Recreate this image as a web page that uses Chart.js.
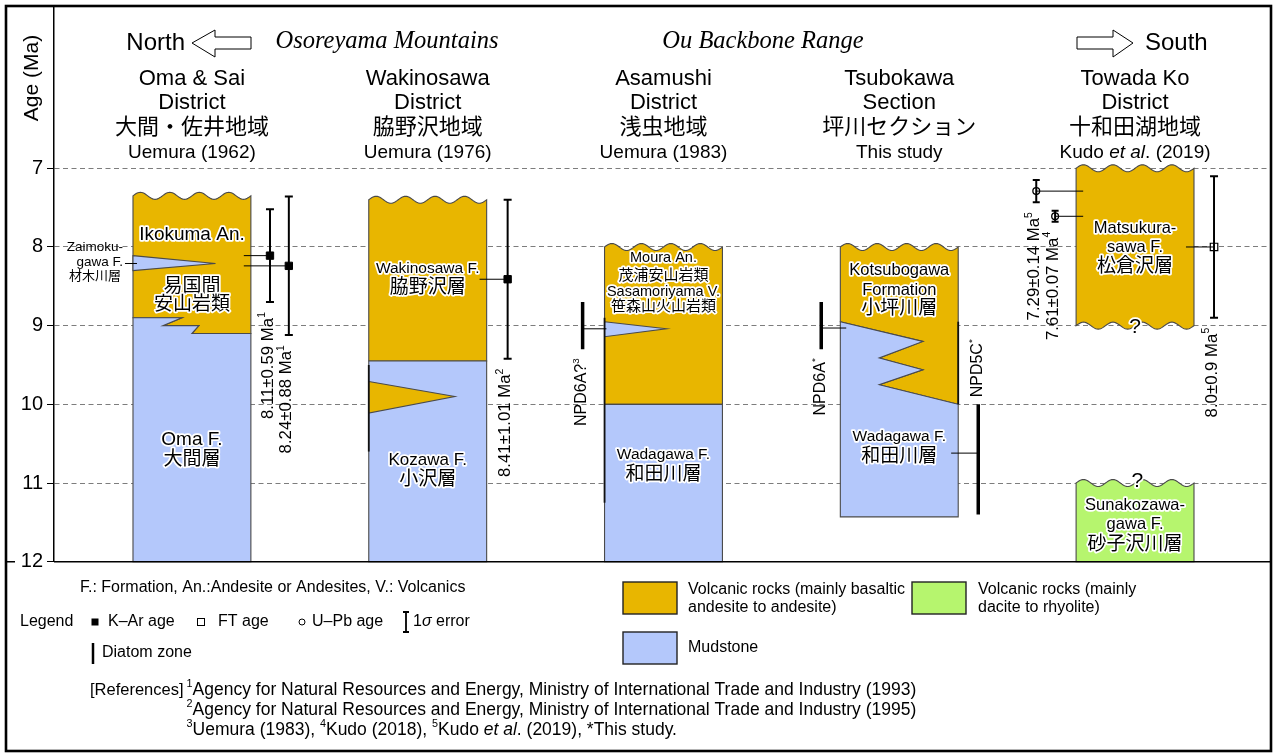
<!DOCTYPE html>
<html>
<head>
<meta charset="utf-8">
<script src="https://cdn.jsdelivr.net/npm/chart.js@4/dist/chart.umd.min.js"></script>
<style>
  html, body { margin: 0; padding: 0; background: #fff; }
  canvas { display: block; }
</style>
</head>
<body>
<canvas id="chartjs-estratigrafia" width="1275" height="756"></canvas>
<script>
// ---- data ----
const columns = ["Oma & Sai", "Wakinosawa", "Asamushi", "Tsubokawa", "Towada Ko"];
const ageTicks = [7, 8, 9, 10, 11, 12];

// K-Ar ages (Ma) with 1 sigma
const kArColumn = [0, 0, 1];
const kArAge = [8.11, 8.24, 8.41];
const kArError = [0.59, 0.88, 1.01];
const kArRef = ["1", "1", "2"];

// FT ages
const ftColumn = [4];
const ftAge = [8.0];
const ftError = [0.9];
const ftRef = ["5"];

// U-Pb ages
const uPbColumn = [4, 4];
const uPbAge = [7.29, 7.61];
const uPbError = [0.14, 0.07];
const uPbRef = ["5", "4"];

// diatom zones
const diatomColumn = [2, 3, 3];
const diatomZone = ["NPD6A?", "NPD6A", "NPD5C"];
const diatomRef = ["3", "*", "*"];
const diatomTop = [8.7, 8.7, 10.0];
const diatomBase = [9.3, 9.3, 11.4];
const diatomTie = [9.04, 9.03, 10.62];

// formation boundaries (Ma)
const volcanicTop = [7.35, 7.4, 8.0, 8.0, 7.0];
const omaContact = [8.9, 8.9, 9.0, 9.0, 9.1, 9.1];
const wakinosawaContact = 9.45;
const asamushiContact = 10.0;
const tsubokawaContact = [8.95, 9.2, 9.41, 9.56, 9.75, 10.0];
const tsubokawaBase = 11.43;
const matsukurasawaBase = 9.0;
const sunakozawagawaTop = 11.0;
const zaimokugawaTongue = [8.11, 8.21, 8.3];
const wakinosawaTongue = [9.71, 9.9, 10.11];
const asamushiTongue = [8.95, 9.04, 9.14];

// ---- layout ----
const HALF = 0.25;          // half column width (x units)
const WAVES = 4, WAVE_AMP = 3.5;
const omaContactX = [0, 0.415, 0.254, 0.559, 0.5, 1];
const tsubokawaContactX = [0, 0.7, 0.33, 0.7, 0.33, 1];
const kArX = [0.331, 0.411, 0.339];
const ftX = [0.335];
const uPbX = [-0.419, -0.339];
const diatomX = [-0.343, -0.331, 0.335];
const diatomTieEnd = [-0.242, -0.225, 0.22];

const VOLC = "#e8b600", MUD = "#b4c8fb", FELSIC = "#b6f56e";
const SANS = '"Liberation Sans", Arial, "Noto Sans CJK JP", sans-serif';
const SERIF = '"Liberation Serif", "Times New Roman", serif';

const pts = (fs, ages) => fs.map((f, i) => [f, ages[i]]);
const flat = (a) => [[0, a], [1, a]];

const units = [
  { col: 0, color: VOLC, top: { wave: volcanicTop[0] }, bottom: pts(omaContactX, omaContact) },
  { col: 0, color: MUD, top: pts(omaContactX, omaContact), bottom: flat(12) },
  { col: 0, color: MUD, poly: pts([0, 0.7, 0], zaimokugawaTongue) },
  { col: 1, color: VOLC, top: { wave: volcanicTop[1] }, bottom: flat(wakinosawaContact) },
  { col: 1, color: MUD, top: flat(wakinosawaContact), bottom: flat(12) },
  { col: 1, color: VOLC, poly: pts([0, 0.73, 0], wakinosawaTongue) },
  { col: 2, color: VOLC, top: { wave: volcanicTop[2] }, bottom: flat(asamushiContact) },
  { col: 2, color: MUD, top: flat(asamushiContact), bottom: flat(12) },
  { col: 2, color: MUD, poly: pts([0, 0.525, 0], asamushiTongue) },
  { col: 3, color: VOLC, top: { wave: volcanicTop[3] }, bottom: pts(tsubokawaContactX, tsubokawaContact) },
  { col: 3, color: MUD, top: pts(tsubokawaContactX, tsubokawaContact), bottom: flat(tsubokawaBase) },
  { col: 4, color: VOLC, top: { wave: volcanicTop[4] }, bottom: { wave: matsukurasawaBase } },
  { col: 4, color: FELSIC, top: { wave: sunakozawagawaTop }, bottom: flat(12) },
];

// darker edge marks [col, side, from, to]
const edgeMarks = [[1, 0, 9.5, 10.6], [2, 0, 8.9, 11.25], [3, 1, 8.95, 10.0]];

const headers = [
  ["Oma & Sai", "District", "大間・佐井地域", [["Uemura (1962)"]]],
  ["Wakinosawa", "District", "脇野沢地域", [["Uemura (1976)"]]],
  ["Asamushi", "District", "浅虫地域", [["Uemura (1983)"]]],
  ["Tsubokawa", "Section", "坪川セクション", [["This study"]]],
  ["Towada Ko", "District", "十和田湖地域", [["Kudo "], ["et al", "i"], [". (2019)"]]],
];

// [col, age of text centre, text, size]
const unitLabels = [
  [0, 7.85, "Ikokuma An.", 19], [0, 8.5, "易国間", 19], [0, 8.73, "安山岩類", 19],
  [0, 10.45, "Oma F.", 19], [0, 10.71, "大間層", 19],
  [1, 8.27, "Wakinosawa F.", 15.5], [1, 8.52, "脇野沢層", 19],
  [1, 10.71, "Kozawa F.", 17], [1, 10.96, "小沢層", 19],
  [2, 8.14, "Moura An.", 14.5], [2, 8.37, "茂浦安山岩類", 15],
  [2, 8.57, "Sasamoriyama V.", 14.5], [2, 8.76, "笹森山火山岩類", 15],
  [2, 10.64, "Wadagawa F.", 15.5], [2, 10.9, "和田川層", 19],
  [3, 8.3, "Kotsubogawa", 16.5], [3, 8.55, "Formation", 16.5], [3, 8.78, "小坪川層", 19],
  [3, 10.41, "Wadagawa F.", 15.5], [3, 10.66, "和田川層", 19],
  [4, 7.77, "Matsukura-", 16.5], [4, 8.0, "sawa F.", 16.5], [4, 8.25, "松倉沢層", 19],
  [4, 11.28, "Sunakozawa-", 16.5], [4, 11.53, "gawa F.", 16.5], [4, 11.79, "砂子沢川層", 19],
];

// ---- helpers ----
function drawRich(ctx, parts, x, y, o) {
  const size = o.size, fam = o.family || SANS;
  const fontFor = (st) => (st.includes("i") ? "italic " : "") + (st.includes("s") ? (size * 0.62).toFixed(1) : size) + "px " + fam;
  ctx.save();
  ctx.translate(x, y);
  if (o.rotate) ctx.rotate(o.rotate);
  ctx.textBaseline = "middle";
  let w = 0;
  parts.forEach((p) => { ctx.font = fontFor(p[1] || ""); w += ctx.measureText(p[0]).width; });
  const x0 = o.align === "center" ? -w / 2 : o.align === "right" ? -w : 0;
  const passes = o.halo ? ["halo", "fill"] : ["fill"];
  passes.forEach((pass) => {
    let cx = x0;
    parts.forEach((p) => {
      const st = p[1] || "";
      ctx.font = fontFor(st);
      const dy = st.includes("s") ? -size * 0.33 : 0;
      if (pass === "halo") {
        ctx.strokeStyle = "#fff"; ctx.lineWidth = 3.5; ctx.lineJoin = "round";
        ctx.strokeText(p[0], cx, dy);
      } else {
        ctx.fillStyle = "#000";
        ctx.fillText(p[0], cx, dy);
      }
      cx += ctx.measureText(p[0]).width;
    });
  });
  ctx.restore();
  return w;
}

function traceEdge(ctx, xs, ys, col, edge, reverse) {
  const X = (f) => xs.getPixelForValue(col - HALF + 2 * HALF * f);
  if (edge.wave !== undefined) {
    const y0 = ys.getPixelForValue(edge.wave);
    const n = 96;
    for (let k = 0; k <= n; k++) {
      const t = reverse ? 1 - k / n : k / n;
      ctx.lineTo(X(t), y0 - WAVE_AMP * Math.sin(2 * Math.PI * WAVES * t));
    }
  } else {
    const list = reverse ? edge.slice().reverse() : edge;
    list.forEach(([f, a]) => ctx.lineTo(X(f), ys.getPixelForValue(a)));
  }
}

const strataPlugin = {
  id: "strata",
  beforeDatasetsDraw(chart) {
    const { ctx, scales: { x, y } } = chart;
    units.forEach((u) => {
      ctx.save();
      ctx.beginPath();
      if (u.poly) {
        traceEdge(ctx, x, y, u.col, u.poly, false);
      } else {
        traceEdge(ctx, x, y, u.col, u.top, false);
        traceEdge(ctx, x, y, u.col, u.bottom, true);
      }
      ctx.closePath();
      ctx.fillStyle = u.color;
      ctx.fill();
      ctx.strokeStyle = "#4a4a4a";
      ctx.lineWidth = 1.1;
      ctx.lineJoin = "miter";
      ctx.stroke();
      ctx.restore();
    });
    ctx.save();
    ctx.strokeStyle = "#111";
    ctx.lineWidth = 1.8;
    edgeMarks.forEach(([c, side, a, b]) => {
      const px = x.getPixelForValue(c + (side ? HALF : -HALF));
      ctx.beginPath();
      ctx.moveTo(px, y.getPixelForValue(a));
      ctx.lineTo(px, y.getPixelForValue(b));
      ctx.stroke();
    });
    ctx.restore();
  },
  afterDatasetsDraw(chart) {
    const { ctx, scales: { x, y } } = chart;
    unitLabels.forEach(([c, a, t, s]) => {
      drawRich(ctx, [[t]], x.getPixelForValue(c), y.getPixelForValue(a), { size: s, align: "center", halo: true });
    });
    // Zaimokugawa F. (left of column 0)
    const zx = x.getPixelForValue(-0.292);
    drawRich(ctx, [["Zaimoku-"]], zx, y.getPixelForValue(8.01), { size: 13.5, align: "right" });
    drawRich(ctx, [["gawa F."]], zx, y.getPixelForValue(8.19), { size: 13.5, align: "right" });
    drawRich(ctx, [["材木川層"]], zx - 2, y.getPixelForValue(8.38), { size: 13, align: "right" });
    // question marks
    drawRich(ctx, [["?"]], x.getPixelForValue(4), y.getPixelForValue(matsukurasawaBase) + 2, { size: 21, align: "center", halo: true });
    drawRich(ctx, [["?"]], x.getPixelForValue(4.01), y.getPixelForValue(sunakozawagawaTop) - 2, { size: 21, align: "center", halo: true });

    // rotated age labels
    const R = -Math.PI / 2;
    const below = (col, off, age, parts) =>
      drawRich(ctx, parts, x.getPixelForValue(col + off) - 2, y.getPixelForValue(age) + 10, { size: 16.8, align: "right", rotate: R });
    kArAge.forEach((a, i) => below(kArColumn[i], kArX[i], a + kArError[i],
      [[a.toFixed(2) + "±" + kArError[i].toFixed(2) + " Ma"], [kArRef[i], "s"]]));
    ftAge.forEach((a, i) => below(ftColumn[i], ftX[i], a + ftError[i],
      [[a.toFixed(1) + "±" + ftError[i].toFixed(1) + " Ma"], [ftRef[i], "s"]]));
    uPbAge.forEach((a, i) => below(uPbColumn[i], uPbX[i], a + uPbError[i],
      [[a.toFixed(2) + "±" + uPbError[i].toFixed(2) + " Ma"], [uPbRef[i], "s"]]));
    diatomZone.forEach((z, i) => {
      const parts = [[z], [diatomRef[i], "s"]];
      const px = x.getPixelForValue(diatomColumn[i] + diatomX[i]) - 1;
      if (diatomTop[i] >= 10) {
        drawRich(ctx, parts, px, y.getPixelForValue(diatomTop[i]) - 7, { size: 16, align: "left", rotate: R });
      } else {
        drawRich(ctx, parts, px, y.getPixelForValue(diatomBase[i]) + 9, { size: 16, align: "right", rotate: R });
      }
    });
  },
};

function arrow(ctx, points) {
  ctx.beginPath();
  points.forEach(([px, py]) => ctx.lineTo(px, py));
  ctx.closePath();
  ctx.fillStyle = "#fff";
  ctx.fill();
  ctx.strokeStyle = "#000";
  ctx.lineWidth = 1;
  ctx.stroke();
}

const decorPlugin = {
  id: "decor",
  afterDraw(chart) {
    const { ctx, scales: { x }, chartArea } = chart;
    ctx.save();
    // separator under the chart
    ctx.strokeStyle = "#000";
    ctx.lineWidth = 1.5;
    ctx.beginPath();
    ctx.moveTo(6, chartArea.bottom); ctx.lineTo(15, chartArea.bottom);
    ctx.moveTo(chartArea.left, chartArea.bottom); ctx.lineTo(1271, chartArea.bottom);
    ctx.stroke();

    // axis title
    drawRich(ctx, [["Age (Ma)"]], 32, 78, { size: 21, align: "center", rotate: -Math.PI / 2 });

    // regions and directions
    drawRich(ctx, [["North"]], 185, 43, { size: 24, align: "right" });
    arrow(ctx, [[192, 43], [215, 30], [215, 37], [251, 37], [251, 49], [215, 49], [215, 57]]);
    drawRich(ctx, [["South"]], 1145, 43, { size: 24, align: "left" });
    arrow(ctx, [[1077, 37], [1113, 37], [1113, 30], [1133, 43], [1113, 57], [1113, 49], [1077, 49]]);
    drawRich(ctx, [["Osoreyama Mountains", "i"]], 387, 42, { size: 24.5, align: "center", family: SERIF });
    drawRich(ctx, [["Ou Backbone Range", "i"]], 763, 42, { size: 24.5, align: "center", family: SERIF });

    // column headers
    headers.forEach((h, c) => {
      const cx = x.getPixelForValue(c);
      drawRich(ctx, [[h[0]]], cx, 79, { size: 22, align: "center" });
      drawRich(ctx, [[h[1]]], cx, 103, { size: 22, align: "center" });
      drawRich(ctx, [[h[2]]], cx, 128, { size: 22, align: "center" });
      drawRich(ctx, h[3], cx, 153, { size: 19, align: "center" });
    });

    // legend block
    const L = 16;
    drawRich(ctx, [["F.: Formation, An.:Andesite or Andesites, V.: Volcanics"]], 80, 588, { size: L });
    drawRich(ctx, [["Legend"]], 20, 622, { size: L });
    ctx.fillStyle = "#000";
    ctx.fillRect(91.5, 618.5, 7, 7);
    drawRich(ctx, [["K–Ar age"]], 108, 622, { size: L });
    ctx.fillStyle = "#fff";
    ctx.fillRect(197.5, 618.5, 7, 7);
    ctx.lineWidth = 1;
    ctx.strokeRect(197.5, 618.5, 7, 7);
    drawRich(ctx, [["FT age"]], 218, 622, { size: L });
    ctx.beginPath();
    ctx.arc(302, 622, 3, 0, Math.PI * 2);
    ctx.stroke();
    drawRich(ctx, [["U–Pb age"]], 312, 622, { size: L });
    ctx.lineWidth = 1.8;
    ctx.beginPath();
    ctx.moveTo(406, 612); ctx.lineTo(406, 632);
    ctx.moveTo(403, 612); ctx.lineTo(409, 612);
    ctx.moveTo(403, 632); ctx.lineTo(409, 632);
    ctx.stroke();
    drawRich(ctx, [["1"], ["σ", "i"], [" error"]], 413, 622, { size: L });
    ctx.lineWidth = 2.5;
    ctx.beginPath();
    ctx.moveTo(93, 643); ctx.lineTo(93, 664);
    ctx.stroke();
    drawRich(ctx, [["Diatom zone"]], 102, 653, { size: L });

    const swatch = (sx, sy, color) => {
      ctx.fillStyle = color;
      ctx.fillRect(sx, sy, 54, 32);
      ctx.lineWidth = 1.4;
      ctx.strokeStyle = "#222";
      ctx.strokeRect(sx, sy, 54, 32);
    };
    swatch(623, 582, VOLC);
    swatch(623, 632, MUD);
    swatch(912, 582, FELSIC);
    drawRich(ctx, [["Volcanic rocks (mainly basaltic"]], 688, 590, { size: L });
    drawRich(ctx, [["andesite to andesite)"]], 688, 608, { size: L });
    drawRich(ctx, [["Mudstone"]], 688, 648, { size: L });
    drawRich(ctx, [["Volcanic rocks (mainly"]], 978, 590, { size: L });
    drawRich(ctx, [["dacite to rhyolite)"]], 978, 608, { size: L });

    const RS = 17.5;
    const refW = drawRich(ctx, [["[References]"]], 90, 690, { size: 16.5 });
    const rx = 90 + refW + 3;
    drawRich(ctx, [["1", "s"], ["Agency for Natural Resources and Energy, Ministry of International Trade and Industry (1993)"]], rx, 690, { size: RS });
    drawRich(ctx, [["2", "s"], ["Agency for Natural Resources and Energy, Ministry of International Trade and Industry (1995)"]], rx, 710, { size: RS });
    drawRich(ctx, [["3", "s"], ["Uemura (1983), "], ["4", "s"], ["Kudo (2018), "], ["5", "s"], ["Kudo "], ["et al", "i"], [". (2019), *This study."]], rx, 730, { size: RS });

    // outer frame
    ctx.strokeStyle = "#000";
    ctx.lineWidth = 2.6;
    ctx.strokeRect(6, 6, 1265, 745);
    ctx.restore();
  },
};

// ---- datasets ----
const segment = (points, width) => ({
  data: points, showLine: true, borderColor: "#000", borderWidth: width,
  pointRadius: 0, borderCapStyle: "butt",
});
const errorBar = (xv, a, e, cap) => ({
  data: [{ x: xv, y: a - e }, { x: xv, y: a + e }], showLine: true,
  borderColor: "#000", borderWidth: 2, pointStyle: "line", pointRadius: cap,
  pointBorderWidth: 2, pointBorderColor: "#000",
});

const datasets = [];
kArAge.forEach((a, i) => {
  const cx = kArColumn[i] + kArX[i];
  datasets.push(segment([{ x: kArColumn[i] + 0.22, y: a }, { x: cx, y: a }], 1));
  datasets.push(errorBar(cx, a, kArError[i], 4));
});
ftAge.forEach((a, i) => {
  const cx = ftColumn[i] + ftX[i];
  datasets.push(segment([{ x: ftColumn[i] + 0.216, y: a }, { x: cx, y: a }], 1));
  datasets.push(errorBar(cx, a, ftError[i], 4));
});
uPbAge.forEach((a, i) => {
  const cx = uPbColumn[i] + uPbX[i];
  datasets.push(segment([{ x: cx, y: a }, { x: uPbColumn[i] - 0.22, y: a }], 1));
  datasets.push(errorBar(cx, a, uPbError[i], 3.5));
});
diatomZone.forEach((z, i) => {
  const cx = diatomColumn[i] + diatomX[i];
  datasets.push(segment([{ x: cx, y: diatomTie[i] }, { x: diatomColumn[i] + diatomTieEnd[i], y: diatomTie[i] }], 1));
  datasets.push(segment([{ x: cx, y: diatomTop[i] }, { x: cx, y: diatomBase[i] }], 3.5));
});
// Zaimokugawa F. leader
datasets.push(segment([{ x: -0.284, y: zaimokugawaTongue[1] }, { x: -0.233, y: zaimokugawaTongue[1] }], 1));

datasets.push({
  label: "K–Ar age",
  data: kArAge.map((a, i) => ({ x: kArColumn[i] + kArX[i], y: a })),
  pointStyle: "rect", pointRadius: 5.2, pointBackgroundColor: "#000",
  pointBorderColor: "#000", pointBorderWidth: 1,
});
datasets.push({
  label: "FT age",
  data: ftAge.map((a, i) => ({ x: ftColumn[i] + ftX[i], y: a })),
  pointStyle: "rect", pointRadius: 5.3, pointBackgroundColor: "#fff",
  pointBorderColor: "#000", pointBorderWidth: 1.2,
});
datasets.push({
  label: "U–Pb age",
  data: uPbAge.map((a, i) => ({ x: uPbColumn[i] + uPbX[i], y: a })),
  pointStyle: "circle", pointRadius: 3.4, pointBackgroundColor: "#fff",
  pointBorderColor: "#000", pointBorderWidth: 1.3,
});

new Chart(document.getElementById("chartjs-estratigrafia"), {
  type: "scatter",
  data: { datasets: datasets },
  options: {
    responsive: false,
    animation: false,
    events: [],
    layout: { padding: { left: 0, right: 5.5, top: 7, bottom: 194.3 } },
    plugins: { legend: { display: false }, tooltip: { enabled: false } },
    scales: {
      x: { type: "linear", display: false, min: -0.585, max: 4.566 },
      y: {
        type: "linear",
        reverse: true,
        min: 4.95,
        max: 12,
        afterBuildTicks: (s) => { s.ticks = ageTicks.map((v) => ({ value: v })); },
        afterFit: (s) => { s.width = 54; s.paddingTop = 0; s.paddingBottom = 0; },
        ticks: { color: "#000", font: { family: SANS, size: 20 }, padding: 4 },
        grid: {
          color: (c) => (c.tick && c.tick.value === 12 ? "rgba(0,0,0,0)" : "#7d7d7d"),
          tickColor: "#000",
          tickLength: 7,
          lineWidth: 1,
        },
        border: { display: true, color: "#000", width: 1.5, dash: [5, 3.5] },
      },
    },
  },
  plugins: [strataPlugin, decorPlugin],
});
</script>
</body>
</html>
